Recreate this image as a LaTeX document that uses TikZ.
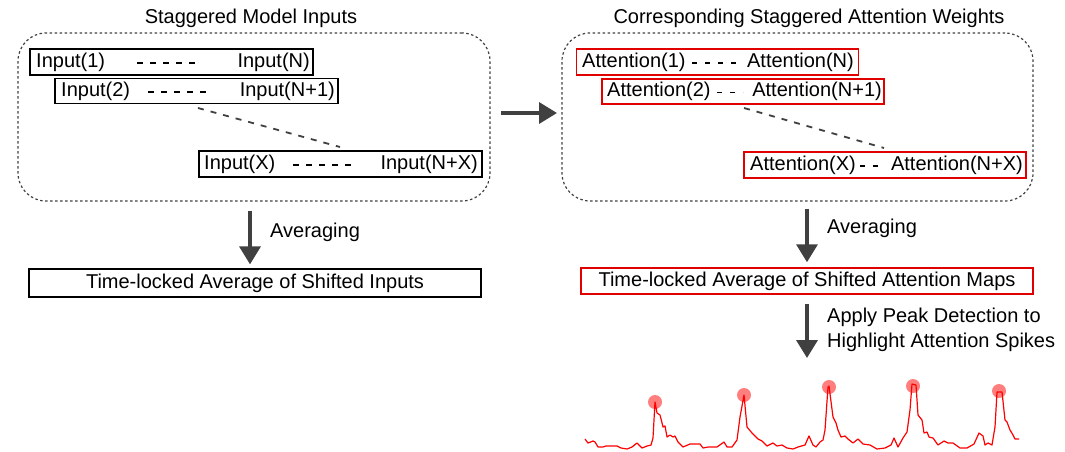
\documentclass[tikz,border=0pt]{standalone}
\usepackage{fontspec}
\setmainfont{Liberation Sans}
\usetikzlibrary{arrows.meta,calc}
\definecolor{dk}{HTML}{404040}
\definecolor{rd}{HTML}{E00000}
\begin{document}
\begin{tikzpicture}[x=1pt,y=-1pt,
  every node/.style={font=\fontsize{20}{24}\selectfont, text=black},
  grp/.style={draw=dk, line width=1.2pt, dash pattern=on 2.5pt off 2.5pt, rounded corners=28pt, inner sep=0pt},
  ibox/.style={draw=black, line width=1.3pt, inner sep=0pt, minimum width=283pt},
  abox/.style={draw=rd, line width=1.5pt, inner sep=0pt, minimum width=282pt},
  lbl/.style={inner sep=0pt},
  gap/.style={draw=black, line width=1.8pt, dash pattern=on 6pt off 7pt},
  gapa/.style={draw=black, line width=1.8pt, dash pattern=on 5pt off 8pt},
  diag/.style={draw=dk, line width=1.8pt, dash pattern=on 6pt off 7pt},
  bigarrow/.style={draw=dk, line width=3.5pt, -{Triangle[length=18pt,width=21pt]}},
]
\useasboundingbox (0,0) rectangle (1065,451);

% titles
\node (tL) at (251,18) {Staggered Model Inputs};
\node (tR) at (809,18) {Corresponding Staggered Attention Weights};

% group boxes
\node[grp, minimum width=472pt, minimum height=168pt] (lg) at (254,117) {};
\node[grp, minimum width=471pt, minimum height=168pt] (rg) at (797.5,117) {};

% input boxes
\node[ibox, minimum height=26pt] (in1) at (171.5,62) {};
\node[ibox, minimum height=25pt] (in2) at (196.5,91) {};
\node[ibox, minimum height=26pt] (inX) at (340.5,164) {};
\node[lbl, anchor=west] (in1a) at (36,62) {Input(1)};
\node[lbl, anchor=east] (in1b) at (310,62) {Input(N)};
\node[lbl, anchor=west] (in2a) at (61,91) {Input(2)};
\node[lbl, anchor=east] (in2b) at (335,91) {Input(N+1)};
\node[lbl, anchor=west] (inXa) at (204,164) {Input(X)};
\node[lbl, anchor=east] (inXb) at (478,164) {Input(N+X)};
\draw[gap] (137,63) -- (202,63);
\draw[gap] (148,92) -- (213,92);
\draw[gap] (293,165) -- (358,165);
\coordinate (dl1) at (198,108);
\coordinate (dl2) at (340,147);
\draw[diag] (dl1) -- (dl2);

% attention boxes
\node[abox, minimum height=26pt] (a1) at (717.5,62) {};
\node[abox, minimum height=25pt] (a2) at (743,91.5) {};
\node[abox, minimum height=26pt] (aX) at (885,165) {};
\node[lbl, anchor=west] (a1a) at (582,62) {Attention(1)};
\node[lbl, anchor=east] (a1b) at (854,62) {Attention(N)};
\node[lbl, anchor=west] (a2a) at (607,91.5) {Attention(2)};
\node[lbl, anchor=east] (a2b) at (882,91.5) {Attention(N+1)};
\node[lbl, anchor=west] (aXa) at (750,165) {Attention(X)};
\node[lbl, anchor=east] (aXb) at (1023,165) {Attention(N+X)};
\draw[gapa] (692,63) -- (738,63);
\draw[gapa] (717,92.5) -- (743,92.5);
\draw[gapa] (860,166) -- (884,166);
\coordinate (dr1) at (744,108);
\coordinate (dr2) at (884,148);
\draw[diag] (dr1) -- (dr2);

% horizontal arrow
\coordinate (hs) at (490,113);
\coordinate (he) at (562,113);
\draw[bigarrow, shorten <=11pt, shorten >=5pt] (hs) -- (he);

% bottom boxes
\node[ibox, minimum width=452pt, minimum height=28pt] (avgL) at (255,283) {Time-locked Average of Shifted Inputs};
\node[abox, minimum width=452pt, minimum height=26pt] (ravg) at (807,281) {Time-locked Average of Shifted Attention Maps};

% down arrows
\draw[bigarrow, shorten <=9pt, shorten >=4pt] ($(avgL.north |- lg.south)+(-5,0)$) -- ($(avgL.north)+(-5,0)$);
\node[lbl, anchor=west] (avL) at (270,232) {Averaging};
\draw[bigarrow, shorten <=7pt, shorten >=5pt] (rg.south -| ravg.north) -- (ravg.north);
\node[lbl, anchor=west] (avR) at (827,228) {Averaging};
\coordinate (sigtop) at (807,358);
\draw[bigarrow, shorten <=9pt] (ravg.south) -- (sigtop);
\node[lbl, anchor=west, align=left] (peak) at (827,329.5) {Apply Peak Detection to\\[1pt]Highlight Attention Spikes};

% signal
\draw[red, line width=1.2pt, line join=round]
 (585,439) -- (588,443) -- (593,441) -- (595,442) -- (598,447) -- (603,447) -- (606,446) -- (612,446)
 -- (617,446) -- (621,448) -- (627,449) -- (632,447) -- (637,443) -- (642,448) -- (647,446) -- (651,445)
 -- (653,438) -- (655,402) -- (657,413) -- (660,415) -- (663,427) -- (665,426) -- (667,437) -- (670,435)
 -- (673,437) -- (675,436) -- (678,442) -- (683,447) -- (690,444) -- (700,444) -- (703,448) -- (708,447)
 -- (717,447) -- (724,442) -- (727,447) -- (732,447) -- (737,440) -- (740,417) -- (744,395) -- (747,427)
 -- (752,433) -- (758,439) -- (762,441) -- (767,446) -- (773,443) -- (777,446) -- (782,445) -- (787,448)
 -- (793,449) -- (798,447) -- (805,445) -- (809,436) -- (813,445) -- (816,447) -- (820,442) -- (823,440)
 -- (825,430) -- (828,387) -- (829,386) -- (833,417) -- (836,423) -- (838,430) -- (841,437) -- (845,436)
 -- (848,439) -- (853,443) -- (858,439) -- (863,444) -- (870,445) -- (877,449) -- (885,448) -- (891,445)
 -- (894,438) -- (898,447) -- (903,438) -- (907,432) -- (910,410) -- (912,384) -- (916,385) -- (918,415)
 -- (922,420) -- (924,433) -- (927,432) -- (929,437) -- (933,438) -- (938,445) -- (944,441) -- (948,443)
 -- (953,443) -- (960,448) -- (967,448) -- (974,444) -- (979,433) -- (983,436) -- (985,445) -- (988,443)
 -- (992,445) -- (995,427) -- (997,392) -- (1002,392) -- (1005,420) -- (1007,422) -- (1010,430) -- (1013,435)
 -- (1015,439) -- (1019,439);
\foreach \px/\py in {655/402, 744/395, 829/387, 913/386, 999/391}
  \fill[red, opacity=0.5] (\px,\py) circle[radius=7];
\end{tikzpicture}
\end{document}
